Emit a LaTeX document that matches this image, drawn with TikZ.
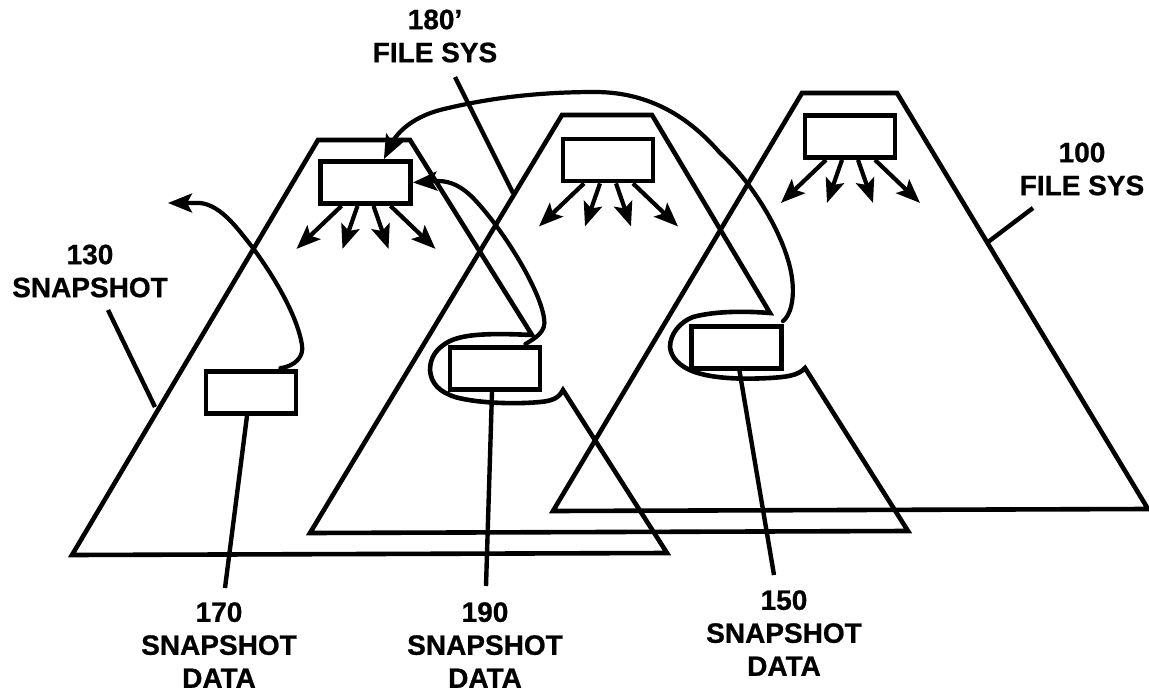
\documentclass[tikz,border=0pt]{standalone}
\usepackage{fontspec}
\setmainfont{Liberation Sans}[BoldFeatures={FakeBold=0.8}]
\usetikzlibrary{arrows.meta}
\tikzset{
  edge/.style={line width=4.6pt,line join=miter},
  curve/.style={line width=4.2pt,line cap=round},
  databox/.style={draw,line width=4.8pt,minimum width=90pt,minimum height=42pt,inner sep=0pt},
  ptr/.style={line width=4.2pt,-{Stealth[length=24pt,width=19pt,inset=5pt]}},
  leader/.style={line width=4.4pt},
  lbl/.style={font=\bfseries\fontsize{28pt}{33pt}\selectfont,align=center,inner sep=0pt}
}
\begin{document}
\begin{tikzpicture}[x=1pt,y=-1pt]
\useasboundingbox (0,0) rectangle (1149,696);
% boxes
\node[databox] (fs1) at (365.5,182.5) {};
\node[databox] (fs2) at (608,160) {};
\node[databox] (fs3) at (850,136.5) {};
\node[databox] (d170) at (251,392.5) {};
\node[databox] (d190) at (495,368.5) {};
\node[databox] (d150) at (736.5,347.5) {};
% triangles
\draw[edge] (72,555) -- (318,140) -- (410,140) -- (532,335)
  .. controls (490,333) and (465,334) .. (450,341)
  .. controls (436,348) and (430,358) .. (430,370)
  .. controls (431,384) and (440,392) .. (455,397)
  .. controls (480,404) and (520,404) .. (540,402)
  .. controls (552,401) and (559,398) .. (563,390)
  -- (667,553) -- cycle;
\draw[edge] (310,533) -- (562,115) -- (652,115) -- (770,313)
  .. controls (745,311) and (715,311) .. (693,317)
  .. controls (680,322) and (670,334) .. (670,347)
  .. controls (671,358) and (680,366) .. (692,371)
  .. controls (715,380) and (750,379) .. (770,378)
  .. controls (785,377) and (798,376) .. (805,368)
  -- (908,531) -- cycle;
\draw[edge] (553,511) -- (802,93) -- (897,93) -- (1148,509) -- cycle;
% pointer arrows
\foreach \b in {fs1,fs2,fs3}{
  \coordinate (\b-a) at ([shift={(-69,43)}]\b.south);
  \coordinate (\b-b) at ([shift={(-23,43)}]\b.south);
  \coordinate (\b-c) at ([shift={(23,43)}]\b.south);
  \coordinate (\b-d) at ([shift={(70,43)}]\b.south);
  \draw[ptr] ([xshift=-24pt]\b.south) -- (\b-a);
  \draw[ptr] ([xshift=-8pt]\b.south) -- (\b-b);
  \draw[ptr] ([xshift=8pt]\b.south) -- (\b-c);
  \draw[ptr] ([xshift=25pt]\b.south) -- (\b-d);
}
% block pointers
\draw[curve,-{Stealth[length=24pt,width=19pt,inset=5pt]}] ([shift={(-18,-1)}]d170.north east)
  .. controls (296,366) and (304,356) .. (302,345)
  .. controls (298,320) and (280,285) .. (253,248)
  .. controls (240,232) and (222,205) .. (200,203)
  -- (168,203);
\draw[curve,-{Stealth[length=24pt,width=19pt,inset=5pt]}] ([shift={(-17,-1)}]d190.north east)
  .. controls (535,338) and (547,332) .. (544,318)
  .. controls (540,290) and (505,232) .. (475,200)
  .. controls (462,186) and (450,181) .. (438,181)
  -- (fs1.east);
\draw[curve,-{Stealth[length=24pt,width=19pt,inset=5pt]}] ([shift={(-1,-3)}]d150.north east)
  .. controls (790,316) and (795,300) .. (792,278)
  .. controls (787,240) and (755,185) .. (720,153)
  .. controls (690,118) and (650,92) .. (595,92)
  .. controls (530,92) and (480,100) .. (440,110)
  .. controls (410,118) and (395,135) .. (391,145)
  -- ([xshift=-29pt]fs1.north east);
% leaders
\coordinate (l170) at (225,588);
\coordinate (l190) at (486,586);
\coordinate (l150) at (774,575);
\coordinate (l130) at (108,310);
\coordinate (t130) at (155,407);
\coordinate (l180) at (455,77);
\coordinate (t180) at (513,193);
\coordinate (l100) at (1033,208);
\coordinate (t100) at (988,242);
\draw[leader] ([xshift=-4pt]d170.south) -- (l170);
\draw[leader] ([xshift=-3pt]d190.south) -- (l190);
\draw[leader] ([xshift=3pt]d150.south) -- (l150);
\draw[leader] (l130) -- (t130);
\draw[leader] (l180) -- (t180);
\draw[leader] (l100) -- (t100);
% labels
\node[lbl] (n180) at (435,36) {180'\\FILE SYS};
\node[lbl] (n100) at (1082,169) {100\\FILE SYS};
\node[lbl] (n130) at (90,271) {130\\SNAPSHOT};
\node[lbl] (n170) at (219,645) {170\\SNAPSHOT\\DATA};
\node[lbl] (n190) at (485,645) {190\\SNAPSHOT\\DATA};
\node[lbl] (n150) at (784,633) {150\\SNAPSHOT\\DATA};
\end{tikzpicture}
\end{document}
